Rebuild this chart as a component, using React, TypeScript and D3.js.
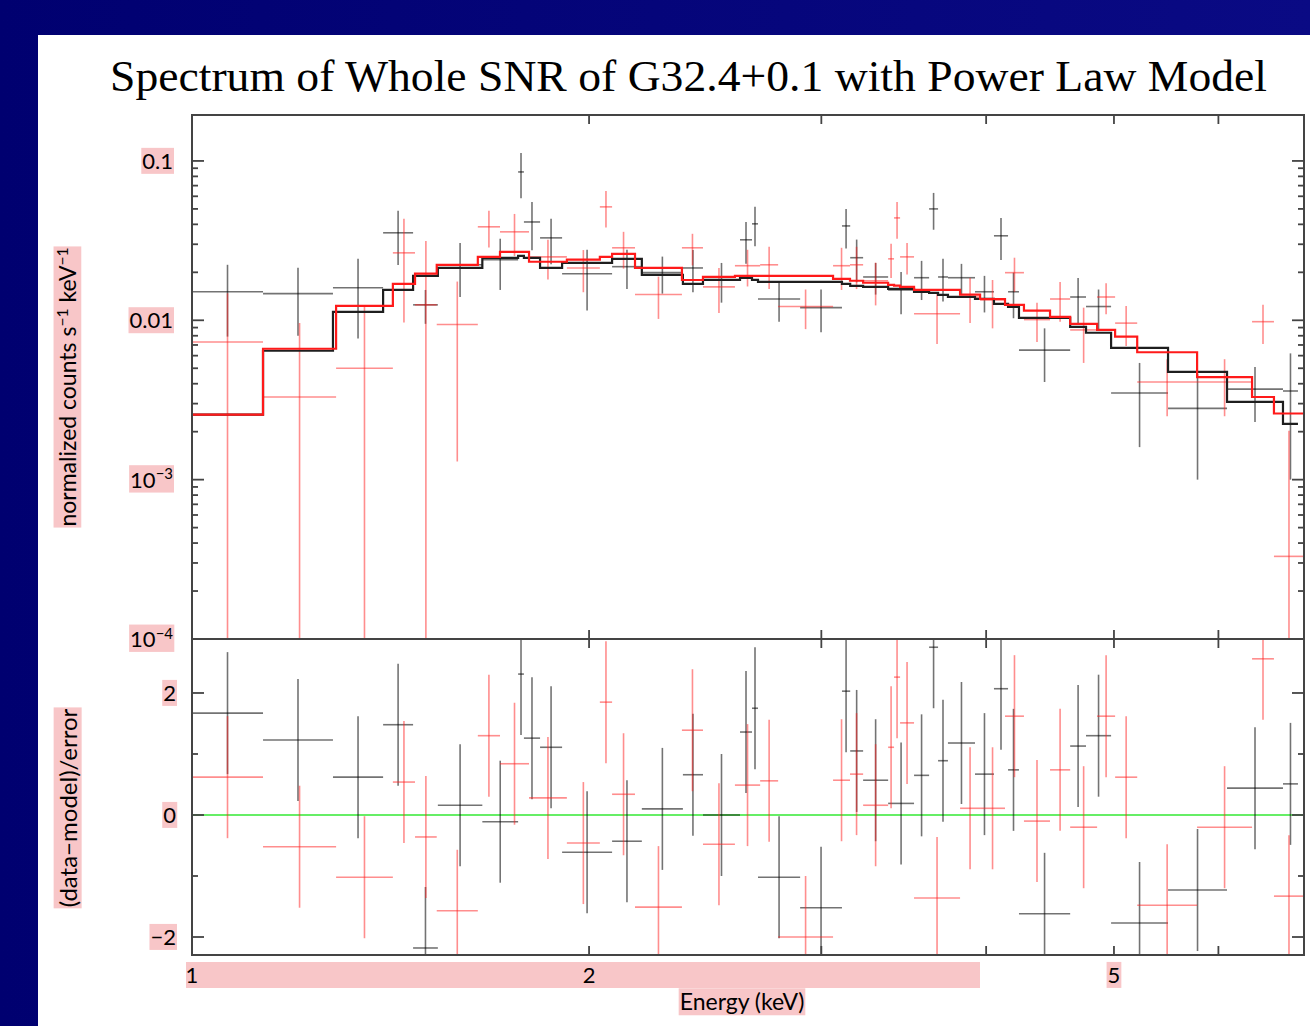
import React, { useEffect, useRef } from "react";
import * as d3 from "d3";

// bin edges (keV) and spectrum values
const blackEdges = [1.0, 1.132, 1.279, 1.396, 1.471, 1.536, 1.66, 1.767, 1.785, 1.836, 1.908, 2.082, 2.193, 2.356, 2.44, 2.603, 2.658, 2.686, 2.891, 3.11, 3.155, 3.227, 3.371, 3.527, 3.621, 3.678, 3.742, 3.923, 4.055, 4.156, 4.236, 4.632, 4.762, 4.975, 5.495, 6.091, 6.716, 6.894];
const blackCounts = [0.0151, 0.0147, 0.016, 0.0354, 0.0125, 0.0223, 0.024, 0.0853, 0.0414, 0.0329, 0.0196, 0.0217, 0.0199, 0.0213, 0.0179, 0.032, 0.0403, 0.0136, 0.012, 0.0391, 0.0247, 0.0187, 0.0155, 0.0185, 0.05, 0.0187, 0.0185, 0.0151, 0.0339, 0.0151, 0.0065, 0.014, 0.0122, 0.0035, 0.0028, 0.0037, 0.0036];
const blackErr = [0.0072, 0.0067, 0.0083, 0.0132, 0.003, 0.0083, 0.0085, 0.027, 0.0139, 0.0104, 0.0081, 0.006, 0.0052, 0.0063, 0.005, 0.0094, 0.0112, 0.0038, 0.0036, 0.0109, 0.0074, 0.0042, 0.0046, 0.0051, 0.013, 0.0056, 0.0041, 0.0039, 0.01, 0.0048, 0.0024, 0.0044, 0.0034, 0.0019, 0.0018, 0.0014, 0.0026];
const blackModel = [0.00256, 0.00644, 0.0113, 0.01553, 0.019, 0.02134, 0.02465, 0.02537, 0.02465, 0.02134, 0.02293, 0.0243, 0.01929, 0.01693, 0.01794, 0.01847, 0.01794, 0.01744, 0.01744, 0.01693, 0.01645, 0.01622, 0.01576, 0.01509, 0.01487, 0.01445, 0.01404, 0.01364, 0.01269, 0.01215, 0.01037, 0.0091, 0.00835, 0.00672, 0.00475, 0.00308, 0.00224];
const blackResid = [1.67, 1.23, 0.62, 1.48, -2.18, 0.16, -0.11, 2.31, 1.26, 1.11, -0.61, -0.43, 0.1, 0.66, 0.0, 1.36, 1.75, -1.02, -1.52, 2.03, 1.05, 0.57, 0.19, 0.65, 2.75, 0.89, 1.18, 0.67, 2.07, 0.74, -1.62, 1.13, 1.3, -1.77, -1.23, 0.44, 0.51];

const redEdges = [1.0, 1.132, 1.286, 1.42, 1.476, 1.533, 1.647, 1.712, 1.801, 1.924, 2.038, 2.082, 2.167, 2.352, 2.44, 2.58, 2.696, 2.782, 3.062, 3.154, 3.227, 3.371, 3.406, 3.442, 3.527, 3.822, 3.958, 4.134, 4.273, 4.472, 4.632, 4.855, 5.01, 5.207, 5.781, 6.363, 6.611, 6.967];
const redCounts = [0.0073, 0.0033, 0.005, 0.0265, 0.0125, 0.0094, 0.0386, 0.0359, 0.025, 0.0213, 0.0515, 0.0285, 0.0145, 0.0285, 0.0162, 0.022, 0.0223, 0.0122, 0.022, 0.0223, 0.0177, 0.0243, 0.0439, 0.025, 0.011, 0.014, 0.0134, 0.0199, 0.0101, 0.0136, 0.0087, 0.014, 0.0096, 0.0041, 0.0041, 0.0098, 0.00033];
const redErr = [0.0075, 0.0063, 0.0074, 0.0168, 0.019, 0.0081, 0.01, 0.0106, 0.007, 0.0063, 0.0133, 0.0074, 0.0043, 0.0064, 0.0051, 0.0057, 0.0066, 0.0034, 0.0065, 0.0066, 0.0053, 0.0059, 0.0114, 0.0056, 0.0039, 0.0044, 0.0045, 0.0048, 0.0028, 0.0038, 0.0033, 0.0031, 0.0027, 0.0016, 0.0016, 0.0027, 0.0017];
const redModel = [0.00256, 0.00663, 0.0123, 0.0169, 0.0196, 0.0223, 0.025, 0.0269, 0.0233, 0.024, 0.025, 0.0261, 0.0213, 0.0179, 0.0187, 0.019, 0.019, 0.019, 0.0182, 0.0177, 0.0172, 0.0167, 0.0165, 0.0162, 0.0155, 0.0145, 0.0136, 0.0125, 0.0115, 0.0105, 0.0095, 0.0087, 0.0079, 0.0063, 0.0044, 0.0033, 0.0026];
const redResid = [0.62, -0.52, -1.02, 0.54, -0.36, -1.57, 1.3, 0.84, 0.28, -0.46, 1.85, 0.34, -1.51, 1.39, -0.48, 0.49, 0.56, -2.0, 0.57, 0.67, 0.16, 1.11, 2.26, 1.51, -1.36, 0.11, 0.11, 1.62, -0.1, 0.74, -0.2, 1.62, 0.62, -1.48, -0.2, 2.56, -1.33];

const xMajorTicks = [2, 3, 4, 5, 6];
const xTickLabels = [
  { value: 1, label: "1" },
  { value: 2, label: "2" },
  { value: 5, label: "5" },
];
const yTopLabels = [
  { value: 0.1, parts: [["0.1", false]] },
  { value: 0.01, parts: [["0.01", false]] },
  { value: 0.001, parts: [["10", false], ["−3", true]] },
  { value: 0.0001, parts: [["10", false], ["−4", true]] },
];
const residMajor = [-2, 0, 2];
const residMinor = [-1, 1];

const W = 1310;
const H = 1026;
const PINK = "#f8c6c8";
const FONT = "Lato, 'Open Sans', sans-serif";

export default function App() {
  const svgRef = useRef<SVGSVGElement>(null);

  useEffect(() => {
    const svg = d3.select(svgRef.current);
    svg.selectAll("*").remove();

    const left = 192, right = 1304, top = 115, mid = 639, bottom = 955;

    const x = d3.scaleLog().domain([1, 6.967]).range([left, right]);
    const y = d3.scaleLog().domain([1e-4, 0.1942]).range([mid, top]);
    const yr = d3.scaleLinear().domain([-2.295, 2.885]).range([bottom, mid]);

    // background
    const defs = svg.append("defs");
    const grad = defs.append("linearGradient").attr("id", "bg").attr("x1", 0).attr("x2", 1).attr("y1", 0).attr("y2", 0);
    grad.append("stop").attr("offset", "0%").attr("stop-color", "#000070");
    grad.append("stop").attr("offset", "100%").attr("stop-color", "#0a0a84");
    svg.append("rect").attr("width", W).attr("height", H).attr("fill", "url(#bg)");
    svg.append("rect").attr("x", 38).attr("y", 35).attr("width", W - 38).attr("height", H - 35).attr("fill", "#fff");

    defs.append("clipPath").attr("id", "clipTop").append("rect")
      .attr("x", left).attr("y", top).attr("width", right - left).attr("height", mid - top);
    defs.append("clipPath").attr("id", "clipRes").append("rect")
      .attr("x", left).attr("y", mid).attr("width", right - left).attr("height", bottom - mid);

    // title
    svg.append("text")
      .attr("x", 110).attr("y", 91)
      .attr("font-family", "'Liberation Serif', 'Times New Roman', serif")
      .attr("font-size", 44)
      .attr("textLength", 1157)
      .attr("lengthAdjust", "spacingAndGlyphs")
      .attr("fill", "#000")
      .text("Spectrum of Whole SNR of G32.4+0.1 with Power Law Model");

    const series = [
      { edges: blackEdges, counts: blackCounts, err: blackErr, model: blackModel, resid: blackResid, color: "rgba(0,0,0,0.55)", modelColor: "#1e1e1e" },
      { edges: redEdges, counts: redCounts, err: redErr, model: redModel, resid: redResid, color: "rgba(255,30,30,0.5)", modelColor: "#ff1a1a" },
    ];

    const gTop = svg.append("g").attr("clip-path", "url(#clipTop)");
    const gRes = svg.append("g").attr("clip-path", "url(#clipRes)");

    // zero line in residual panel
    gRes.append("line")
      .attr("x1", left).attr("x2", right)
      .attr("y1", yr(0)).attr("y2", yr(0))
      .attr("stroke", "#66ee66").attr("stroke-width", 1.8);

    series.forEach((s) => {
      const pts = s.counts.map((v, i) => {
        const lo = s.edges[i], hi = s.edges[i + 1];
        return { lo, hi, c: Math.sqrt(lo * hi), v, e: s.err[i], r: s.resid[i] };
      });

      const gt = gTop.append("g").attr("stroke", s.color).attr("stroke-width", 1.6).attr("fill", "none");
      pts.forEach((p) => {
        const yv = y(p.v);
        const yLo = p.v - p.e > 0 ? y(p.v - p.e) : mid + 5;
        gt.append("line").attr("x1", x(p.lo)).attr("x2", x(p.hi)).attr("y1", yv).attr("y2", yv);
        gt.append("line").attr("x1", x(p.c)).attr("x2", x(p.c)).attr("y1", y(p.v + p.e)).attr("y2", yLo);
      });

      const gr = gRes.append("g").attr("stroke", s.color).attr("stroke-width", 1.6).attr("fill", "none");
      pts.forEach((p) => {
        gr.append("line").attr("x1", x(p.lo)).attr("x2", x(p.hi)).attr("y1", yr(p.r)).attr("y2", yr(p.r));
        gr.append("line").attr("x1", x(p.c)).attr("x2", x(p.c)).attr("y1", yr(p.r + 1)).attr("y2", yr(p.r - 1));
      });
    });

    // model step lines (black first, red on top)
    series.forEach((s) => {
      const stepPts: [number, number][] = s.edges.map((e, i) => [e, s.model[Math.min(i, s.model.length - 1)]]);
      const line = d3.line<[number, number]>()
        .x((d) => x(d[0]))
        .y((d) => y(d[1]))
        .curve(d3.curveStepAfter);
      gTop.append("path")
        .attr("d", line(stepPts))
        .attr("fill", "none")
        .attr("stroke", s.modelColor)
        .attr("stroke-width", 2.2);
    });

    // frames
    const frame = svg.append("g").attr("fill", "none").attr("stroke", "#444").attr("stroke-width", 2);
    frame.append("rect").attr("x", left).attr("y", top).attr("width", right - left).attr("height", mid - top);
    frame.append("rect").attr("x", left).attr("y", mid).attr("width", right - left).attr("height", bottom - mid);

    const ticks = svg.append("g").attr("stroke", "#444").attr("stroke-width", 1.8);
    // log y ticks on top panel
    y.ticks().forEach((t) => {
      const major = Math.abs(Math.log10(t) - Math.round(Math.log10(t))) < 1e-6;
      const len = major ? 12 : 6;
      const py = y(t);
      ticks.append("line").attr("x1", left).attr("x2", left + len).attr("y1", py).attr("y2", py);
      ticks.append("line").attr("x1", right).attr("x2", right - len).attr("y1", py).attr("y2", py);
    });
    // residual y ticks
    residMajor.forEach((t) => {
      ticks.append("line").attr("x1", left).attr("x2", left + 12).attr("y1", yr(t)).attr("y2", yr(t));
      ticks.append("line").attr("x1", right).attr("x2", right - 12).attr("y1", yr(t)).attr("y2", yr(t));
    });
    residMinor.forEach((t) => {
      ticks.append("line").attr("x1", left).attr("x2", left + 6).attr("y1", yr(t)).attr("y2", yr(t));
      ticks.append("line").attr("x1", right).attr("x2", right - 6).attr("y1", yr(t)).attr("y2", yr(t));
    });
    // x ticks
    xMajorTicks.forEach((t) => {
      const px = x(t);
      ticks.append("line").attr("x1", px).attr("x2", px).attr("y1", top).attr("y2", top + 9);
      ticks.append("line").attr("x1", px).attr("x2", px).attr("y1", mid - 9).attr("y2", mid + 9);
      ticks.append("line").attr("x1", px).attr("x2", px).attr("y1", bottom).attr("y2", bottom - 9);
    });

    // labels with pink highlight
    const label = (
      px: number,
      py: number,
      parts: [string, boolean][],
      anchor: string,
      size: number,
      rotate = 0
    ) => {
      const g = svg.append("g").attr("transform", `translate(${px},${py}) rotate(${rotate})`);
      const rect = g.append("rect").attr("fill", PINK);
      const t = g.append("text")
        .attr("text-anchor", anchor)
        .attr("font-family", FONT)
        .attr("font-size", size)
        .attr("fill", "#000")
        .attr("y", size * 0.36);
      parts.forEach(([txt, sup], i) => {
        const ts = t.append("tspan").text(txt);
        if (sup) ts.attr("font-size", size * 0.68).attr("dy", -size * 0.38);
        else if (i > 0 && parts[i - 1][1]) ts.attr("dy", size * 0.38);
      });
      const bb = (t.node() as SVGTextElement).getBBox();
      rect.attr("x", bb.x - 1).attr("y", bb.y + 1).attr("width", bb.width + 2).attr("height", bb.height - 1);
    };

    yTopLabels.forEach((d) => label(173, y(d.value), d.parts as [string, boolean][], "end", 22));
    residMajor.forEach((t) => label(176, yr(t), [[t < 0 ? "−" + Math.abs(t) : String(t), false]], "end", 22));

    // x tick label band
    svg.append("rect").attr("x", 186).attr("y", 962).attr("width", 794).attr("height", 26).attr("fill", PINK);
    xTickLabels.forEach((d) => {
      if (d.value === 5) {
        label(x(d.value), 975, [[d.label, false]], "middle", 22);
      } else {
        svg.append("text")
          .attr("x", x(d.value)).attr("y", 975 + 22 * 0.36)
          .attr("text-anchor", "middle")
          .attr("font-family", FONT).attr("font-size", 22).attr("fill", "#000")
          .text(d.label);
      }
    });

    label(742, 1002, [["Energy (keV)", false]], "middle", 23);
    label(68, 387, [["normalized counts s", false], ["−1", true], [" keV", false], ["−1", true]], "middle", 23, -90);
    label(68, 808, [["(data−model)/error", false]], "middle", 24, -90);
  }, []);

  return (
    <svg
      ref={svgRef}
      width={W}
      height={H}
      style={{ position: "absolute", left: 0, top: 0, display: "block" }}
    ></svg>
  );
}
